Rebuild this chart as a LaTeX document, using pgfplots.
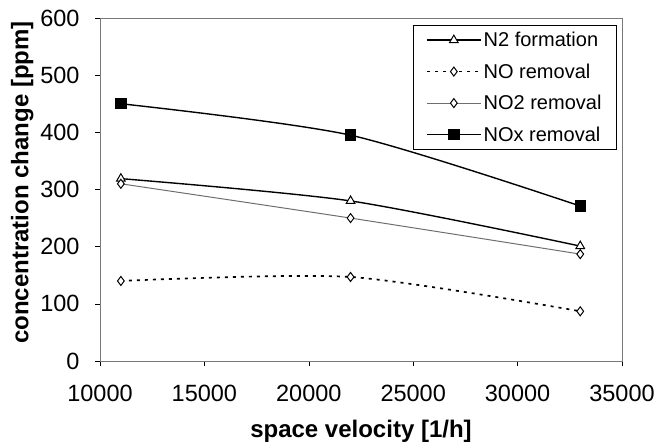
\documentclass[border=0pt]{standalone}
\usepackage{pgfplots}
\pgfplotsset{compat=1.18}
\usepackage{fontspec}
\setmainfont{Liberation Sans}
\definecolor{framegray}{RGB}{120,120,120}
\definecolor{thingray}{RGB}{110,110,110}

\begin{document}
\begin{tikzpicture}
\begin{axis}[
  name=ax,
  scale only axis,
  width=522bp, height=343bp,
  xmin=10000, xmax=35000,
  ymin=0, ymax=600,
  xtick={10000,15000,20000,25000,30000,35000},
  ytick={0,100,...,600},
  scaled x ticks=false,
  /pgf/number format/assume math mode=true,
  /pgf/number format/set thousands separator={},
  tick align=outside,
  xtick pos=bottom, ytick pos=left,
  major tick length=5bp,
  tick style={black, line width=0.6pt},
  axis line style={framegray, line width=0.6pt},
  tick label style={font=\fontsize{23.5bp}{27bp}\selectfont},
  xticklabel style={yshift=-16bp},
  yticklabel style={xshift=-12bp},
  xlabel={space velocity [1/h]},
  ylabel={concentration change [ppm]},
  label style={font=\fontsize{24bp}{28bp}\selectfont\bfseries},
  xlabel style={at={(axis description cs:0.5,-0.205)}, anchor=center},
  ylabel style={at={(axis description cs:-0.149,0.52)}, anchor=center},
  legend style={
    at={(0.99,0.98)}, anchor=north east,
    font=\fontsize{20bp}{24bp}\selectfont,
    draw=black, line width=0.6pt,
    inner xsep=13bp, inner ysep=5bp,
    row sep=11.5bp,
    cells={anchor=west, inner xsep=1bp},
  },
  legend image code/.code={
    \draw[#1] (0bp,0bp) -- (54bp,0bp);
    \path[#1, solid] plot coordinates {(27bp,0bp)};
  },
]
\addplot[black, line width=1.4pt, smooth, tension=0.45,
  mark=triangle*, mark size=5bp,
  mark options={fill=white, solid, line width=1pt}]
  coordinates {(11000,319) (22000,280) (33000,201)};
\addlegendentry{N2 formation}

\addplot[black, line width=1.7pt, dash pattern=on 3bp off 5bp, smooth, tension=0.45,
  mark=diamond*, mark size=4.5bp,
  mark options={fill=white, solid, line width=1pt}]
  coordinates {(11000,140) (22000,147) (33000,87)};
\addlegendentry{NO removal}

\addplot[thingray, line width=1.0pt, smooth, tension=0.45,
  mark=diamond*, mark size=4.5bp,
  mark options={fill=white, draw=black, solid, line width=1pt}]
  coordinates {(11000,310) (22000,250) (33000,187)};
\addlegendentry{NO2 removal}

\addplot[black, line width=1.4pt, smooth, tension=0.45,
  mark=square*, mark size=5bp,
  mark options={fill=black, solid}]
  coordinates {(11000,450) (22000,395) (33000,271)};
\addlegendentry{NOx removal}
\end{axis}
\path (ax.south west) ++(-100bp,-84bp) rectangle ++(658bp,445bp);
\end{tikzpicture}
\end{document}
